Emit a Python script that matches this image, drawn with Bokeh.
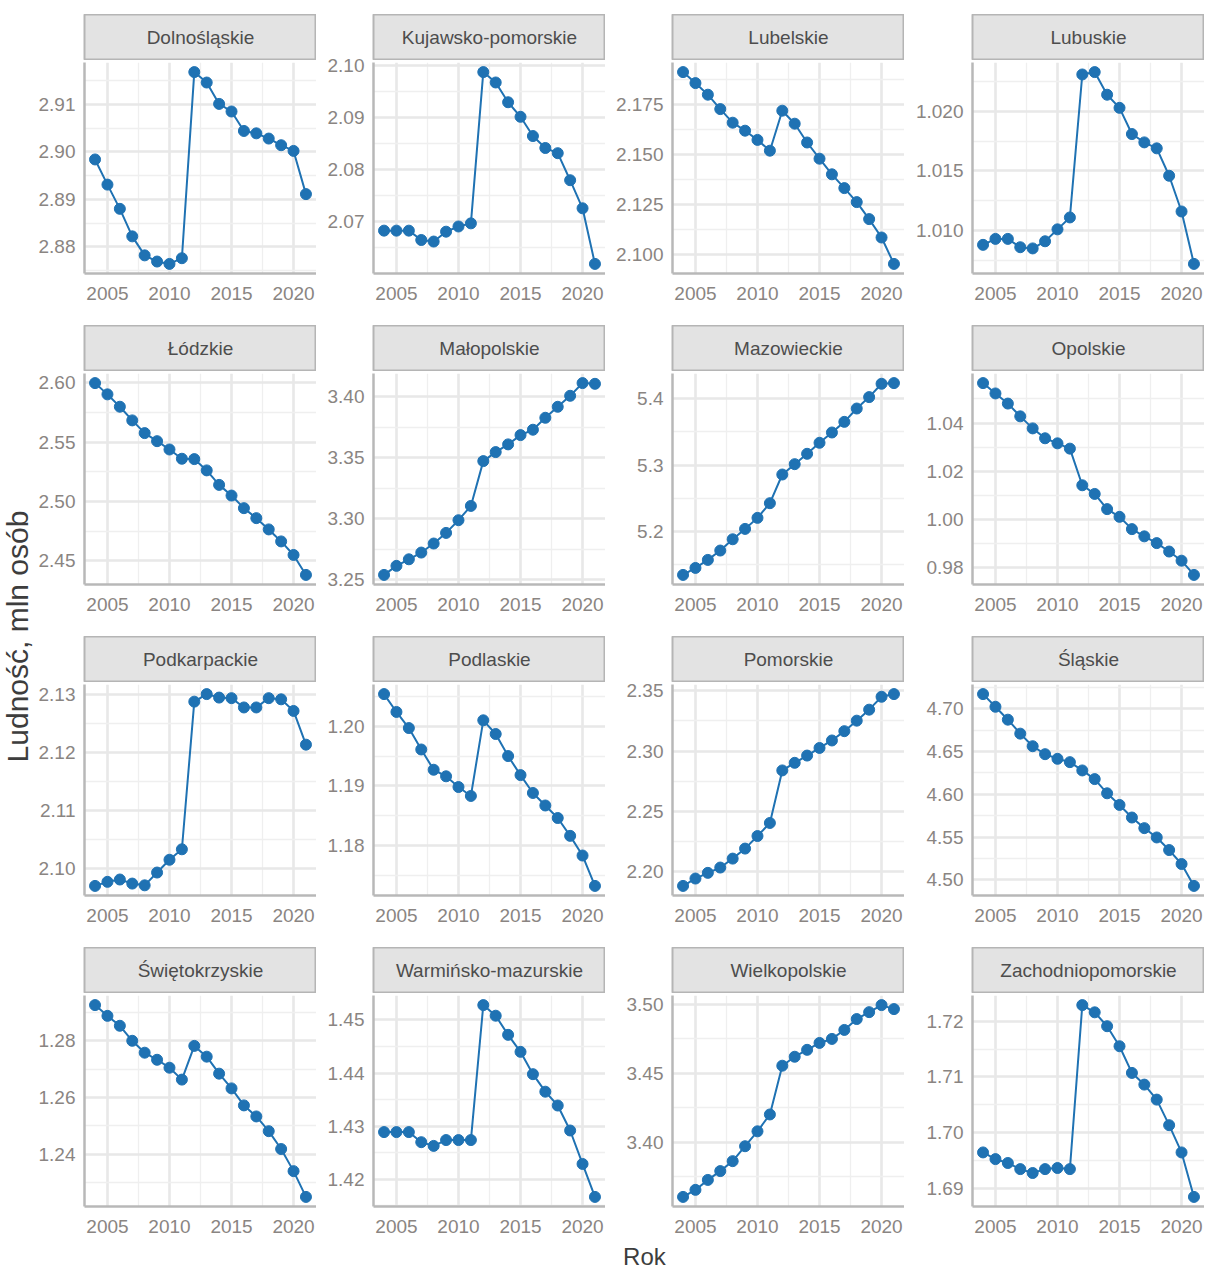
import math
from bokeh.plotting import figure
from bokeh.layouts import row, column
from bokeh.models import Range1d, FixedTicker, PrintfTickFormatter, Label, Spacer
from bokeh.embed import file_html
from bokeh.resources import INLINE

years = list(range(2004, 2022))

regions = ["Dolnośląskie", "Kujawsko-pomorskie", "Lubelskie", "Lubuskie",
           "Łódzkie", "Małopolskie", "Mazowieckie", "Opolskie",
           "Podkarpackie", "Podlaskie", "Pomorskie", "Śląskie",
           "Świętokrzyskie", "Warmińsko-mazurskie", "Wielkopolskie", "Zachodniopomorskie"]

dolnoslaskie = [2.8984, 2.8931, 2.8880, 2.8822, 2.8782, 2.8769, 2.8764, 2.8776, 2.9168, 2.9146, 2.9101, 2.9085, 2.9044, 2.9039, 2.9028, 2.9014, 2.9002, 2.8911]
kujawsko_pomorskie = [2.0682, 2.0682, 2.0682, 2.0664, 2.0661, 2.0680, 2.0690, 2.0696, 2.0987, 2.0967, 2.0929, 2.0901, 2.0864, 2.0841, 2.0831, 2.0779, 2.0725, 2.0618]
lubelskie = [2.1913, 2.1858, 2.1800, 2.1728, 2.1660, 2.1620, 2.1574, 2.1520, 2.1720, 2.1655, 2.1561, 2.1480, 2.1402, 2.1333, 2.1263, 2.1178, 2.1086, 2.0954]
lubuskie = [1.0088, 1.0093, 1.0093, 1.0086, 1.0085, 1.0091, 1.0101, 1.0111, 1.0231, 1.0233, 1.0214, 1.0203, 1.0181, 1.0174, 1.0169, 1.0146, 1.0116, 1.0072]
lodzkie = [2.5997, 2.5902, 2.5798, 2.5683, 2.5576, 2.5508, 2.5438, 2.5360, 2.5357, 2.5262, 2.5140, 2.5050, 2.4944, 2.4860, 2.4765, 2.4664, 2.4550, 2.4382]
malopolskie = [3.2541, 3.2615, 3.2669, 3.2724, 3.2798, 3.2885, 3.2989, 3.3106, 3.3473, 3.3547, 3.3610, 3.3686, 3.3730, 3.3828, 3.3918, 3.4008, 3.4112, 3.4106]
mazowieckie = [5.1347, 5.1452, 5.1573, 5.1714, 5.1884, 5.2040, 5.2206, 5.2427, 5.2859, 5.3015, 5.3171, 5.3337, 5.3492, 5.3652, 5.3853, 5.4025, 5.4226, 5.4236]
opolskie = [1.0566, 1.0523, 1.0481, 1.0428, 1.0378, 1.0337, 1.0316, 1.0294, 1.0142, 1.0106, 1.0043, 1.0011, 0.9960, 0.9930, 0.9902, 0.9867, 0.9829, 0.9770]
podkarpackie = [2.0970, 2.0977, 2.0981, 2.0974, 2.0971, 2.0993, 2.1015, 2.1033, 2.1287, 2.1300, 2.1294, 2.1293, 2.1277, 2.1277, 2.1293, 2.1291, 2.1271, 2.1213]
podlaskie = [1.2054, 1.2024, 1.1997, 1.1961, 1.1927, 1.1916, 1.1898, 1.1883, 1.2010, 1.1987, 1.1950, 1.1918, 1.1888, 1.1867, 1.1846, 1.1816, 1.1783, 1.1732]
pomorskie = [2.1884, 2.1945, 2.1992, 2.2036, 2.2110, 2.2193, 2.2297, 2.2405, 2.2840, 2.2903, 2.2963, 2.3026, 2.3088, 2.3165, 2.3252, 2.3343, 2.3450, 2.3472]
slaskie = [4.7171, 4.7023, 4.6872, 4.6709, 4.6562, 4.6469, 4.6415, 4.6376, 4.6279, 4.6178, 4.6012, 4.5876, 4.5729, 4.5605, 4.5496, 4.5349, 4.5186, 4.4930]
swietokrzyskie = [1.2926, 1.2888, 1.2853, 1.2800, 1.2758, 1.2733, 1.2705, 1.2663, 1.2782, 1.2744, 1.2684, 1.2632, 1.2572, 1.2533, 1.2481, 1.2418, 1.2340, 1.2249]
warminsko_mazurskie = [1.4289, 1.4289, 1.4289, 1.4270, 1.4263, 1.4274, 1.4274, 1.4274, 1.4528, 1.4508, 1.4472, 1.4440, 1.4398, 1.4365, 1.4339, 1.4292, 1.4229, 1.4167]
wielkopolskie = [3.3604, 3.3655, 3.3727, 3.3791, 3.3863, 3.3971, 3.4079, 3.4201, 3.4554, 3.4619, 3.4669, 3.4719, 3.4748, 3.4813, 3.4892, 3.4942, 3.4993, 3.4964]
zachodniopomorskie = [1.6964, 1.6952, 1.6945, 1.6934, 1.6927, 1.6934, 1.6936, 1.6934, 1.7229, 1.7216, 1.7191, 1.7155, 1.7107, 1.7086, 1.7059, 1.7013, 1.6964, 1.6884]

series = [dolnoslaskie, kujawsko_pomorskie, lubelskie, lubuskie,
          lodzkie, malopolskie, mazowieckie, opolskie,
          podkarpackie, podlaskie, pomorskie, slaskie,
          swietokrzyskie, warminsko_mazurskie, wielkopolskie, zachodniopomorskie]

x_ticks = [2005, 2010, 2015, 2020]
y_ticks = [
    [2.88, 2.89, 2.90, 2.91], [2.07, 2.08, 2.09, 2.10], [2.100, 2.125, 2.150, 2.175], [1.010, 1.015, 1.020],
    [2.45, 2.50, 2.55, 2.60], [3.25, 3.30, 3.35, 3.40], [5.2, 5.3, 5.4], [0.98, 1.00, 1.02, 1.04],
    [2.10, 2.11, 2.12, 2.13], [1.18, 1.19, 1.20], [2.20, 2.25, 2.30, 2.35], [4.50, 4.55, 4.60, 4.65, 4.70],
    [1.24, 1.26, 1.28], [1.42, 1.43, 1.44, 1.45], [3.40, 3.45, 3.50], [1.69, 1.70, 1.71, 1.72],
]
y_decimals = [2, 2, 3, 3, 2, 2, 1, 2, 2, 2, 2, 2, 2, 2, 2, 2]

y_title = "Ludność, mln osób"
x_title = "Rok"

FONT = "Liberation Sans"
BLUE = "#1f72b3"
TICK_COLOR = "#8a8582"
TITLE_COLOR = "#3d3d3d"

YLAB_W = 34
FRAME_W = 232
FRAME_H = 211
STRIP_H = 46
OVERLAP = 12
ROW_BOTTOM = 52
LAST_BOTTOM = 32
TOP_PAD = 14
ROK_H = 34
col_left = [50, 57, 67, 68]


def midpoints(t):
    step = t[1] - t[0]
    return [t[0] - step / 2] + [(a + b) / 2 for a, b in zip(t[:-1], t[1:])] + [t[-1] + step / 2]


def strip_fig(name, ci):
    s = figure(width=col_left[ci] + FRAME_W, height=STRIP_H,
               x_range=Range1d(0, 1), y_range=Range1d(0, 1),
               x_axis_type=None, y_axis_type=None,
               toolbar_location=None, output_backend="svg",
               min_border_left=col_left[ci], min_border_right=0,
               min_border_top=0, min_border_bottom=0)
    s.grid.visible = False
    s.background_fill_color = "#e3e3e3"
    s.border_fill_color = "white"
    s.outline_line_color = "#b5b5b5"
    s.outline_line_width = 2
    s.add_layout(Label(x=0.5, y=0.5, text=name, text_align="center", text_baseline="middle",
                       text_font=FONT, text_font_size="19px", text_color="#4d4d4d"))
    return s


def panel_fig(i, ci, last_row):
    vals = series[i]
    lo, hi = min(vals), max(vals)
    pad = (hi - lo) * 0.05
    xpad = (years[-1] - years[0]) * 0.05
    bottom = LAST_BOTTOM if last_row else ROW_BOTTOM
    top = 2 + OVERLAP
    p = figure(width=col_left[ci] + FRAME_W, height=top + FRAME_H + bottom,
               x_range=Range1d(years[0] - xpad, years[-1] + xpad),
               y_range=Range1d(lo - pad, hi + pad),
               toolbar_location=None, output_backend="svg",
               min_border_left=col_left[ci], min_border_right=0,
               min_border_top=top, min_border_bottom=bottom,
               margin=(-OVERLAP, 0, 0, 0))
    p.outline_line_color = None
    p.background_fill_color = "white"
    p.border_fill_color = None

    p.xaxis.ticker = FixedTicker(ticks=x_ticks, minor_ticks=midpoints(x_ticks))
    p.yaxis.ticker = FixedTicker(ticks=y_ticks[i], minor_ticks=midpoints(y_ticks[i]))
    p.yaxis.formatter = PrintfTickFormatter(format="%%.%df" % y_decimals[i])

    for g in (p.xgrid, p.ygrid):
        g.grid_line_color = "#e8e8e8"
        g.grid_line_width = 2.6
        g.minor_grid_line_color = "#efefef"
        g.minor_grid_line_width = 1.3

    for ax in (p.xaxis, p.yaxis):
        ax.axis_line_color = "#b8b8b8"
        ax.axis_line_width = 2.5
        ax.major_tick_line_color = None
        ax.minor_tick_line_color = None
        ax.major_tick_out = 0
        ax.major_tick_in = 0
        ax.minor_tick_out = 0
        ax.minor_tick_in = 0
        ax.major_label_text_font = FONT
        ax.major_label_text_font_size = "19px"
        ax.major_label_text_color = TICK_COLOR
    p.xaxis.major_label_standoff = 13
    p.yaxis.major_label_standoff = 9

    p.line(years, vals, line_color=BLUE, line_width=2)
    p.scatter(years, vals, size=11, fill_color=BLUE, line_color=BLUE)
    return p


rows = []
for r in range(4):
    cells = []
    for c in range(4):
        i = r * 4 + c
        cells.append(column(strip_fig(regions[i], c), panel_fig(i, c, r == 3)))
    rows.append(row(*cells))

total_w = sum(col_left[c] + FRAME_W for c in range(4))
grid_h = TOP_PAD + 3 * (STRIP_H + 2 + FRAME_H + ROW_BOTTOM) + (STRIP_H + 2 + FRAME_H + LAST_BOTTOM) + ROK_H

xlab = figure(width=total_w, height=ROK_H, x_range=Range1d(0, 1), y_range=Range1d(0, 1),
              x_axis_type=None, y_axis_type=None, toolbar_location=None, output_backend="svg",
              min_border=0, outline_line_color=None)
xlab.grid.visible = False
xlab.add_layout(Label(x=0.5213, y=0.47, text=x_title, text_align="center", text_baseline="middle",
                      text_font=FONT, text_font_size="24px", text_color=TITLE_COLOR))

ylab = figure(width=YLAB_W, height=grid_h, x_range=Range1d(0, 1), y_range=Range1d(0, 1),
              x_axis_type=None, y_axis_type=None, toolbar_location=None, output_backend="svg",
              min_border=0, outline_line_color=None)
ylab.grid.visible = False
ylab.add_layout(Label(x=0.5, y=0.5, text=y_title, text_align="center", text_baseline="middle",
                      angle=math.pi / 2, text_font=FONT, text_font_size="30px",
                      text_color=TITLE_COLOR))

top_spacer = Spacer(width=total_w, height=TOP_PAD)
layout = row(ylab, column(top_spacer, *rows, xlab))

open("out.html", "w").write(file_html(layout, INLINE))
